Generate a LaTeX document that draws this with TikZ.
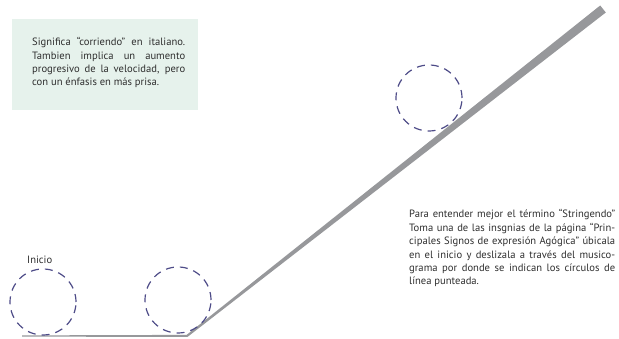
\documentclass[tikz,border=0pt]{standalone}
\usepackage{fontspec}
\setmainfont{PT Sans}
\definecolor{boxgreen}{HTML}{E6F2EC}
\definecolor{pathgrey}{HTML}{97989B}
\definecolor{dashblue}{HTML}{4E4C88}
\definecolor{txtgrey}{HTML}{2E2E2E}
\newcommand{\jline}[1]{\makebox[\hsize][s]{\spaceskip=0pt\xspaceskip=0pt #1}\\}
\tikzset{
  dashcircle/.style={draw=dashblue, line width=1.2pt, dash pattern=on 8pt off 6pt, circle, minimum size=66pt, inner sep=0pt},
  bodytext/.style={inner sep=0pt, anchor=base west, align=justify, text=txtgrey, font=\fontsize{10.6pt}{13.4pt}\selectfont}
}
\begin{document}
\begin{tikzpicture}[x=1pt,y=1pt]
\useasboundingbox (0,0) rectangle (619,339);
% note box
\fill[boxgreen] (12,229) rectangle (198,320);
\node[bodytext, text width=153pt] (note) at (32,293.3) {%
\jline{Significa “corriendo” en italiano.}
\jline{Tambien implica un aumento}
\jline{progresivo de la velocidad, pero}
con un énfasis en más prisa.};
% tapered path
\fill[pathgrey] (22,3.6) -- (186.6,4.1) -- (600.2,333.5) -- (605.8,326.5) -- (187.4,2.0) -- (22,2.4) -- cycle;
% circles
\node[dashcircle] (c1) at (43,37) {};
\node[dashcircle] (c2) at (178,39) {};
\node[dashcircle] (c3) at (429,241) {};
\node[inner sep=0pt, anchor=base west, text=txtgrey, font=\fontsize{10.6pt}{12pt}\selectfont] (inicio) at (27,75) {Inicio};
\node[bodytext, text width=206pt] (instr) at (409,121) {%
\jline{Para entender mejor el término “Stringendo”}
\jline{Toma una de las insgnias de la página “Prin-}
\jline{cipales Signos de expresión Agógica” úbicala}
\jline{en el inicio y deslizala a través del musico-}
\jline{grama por donde se indican los círculos de}
línea punteada.};
\end{tikzpicture}
\end{document}
